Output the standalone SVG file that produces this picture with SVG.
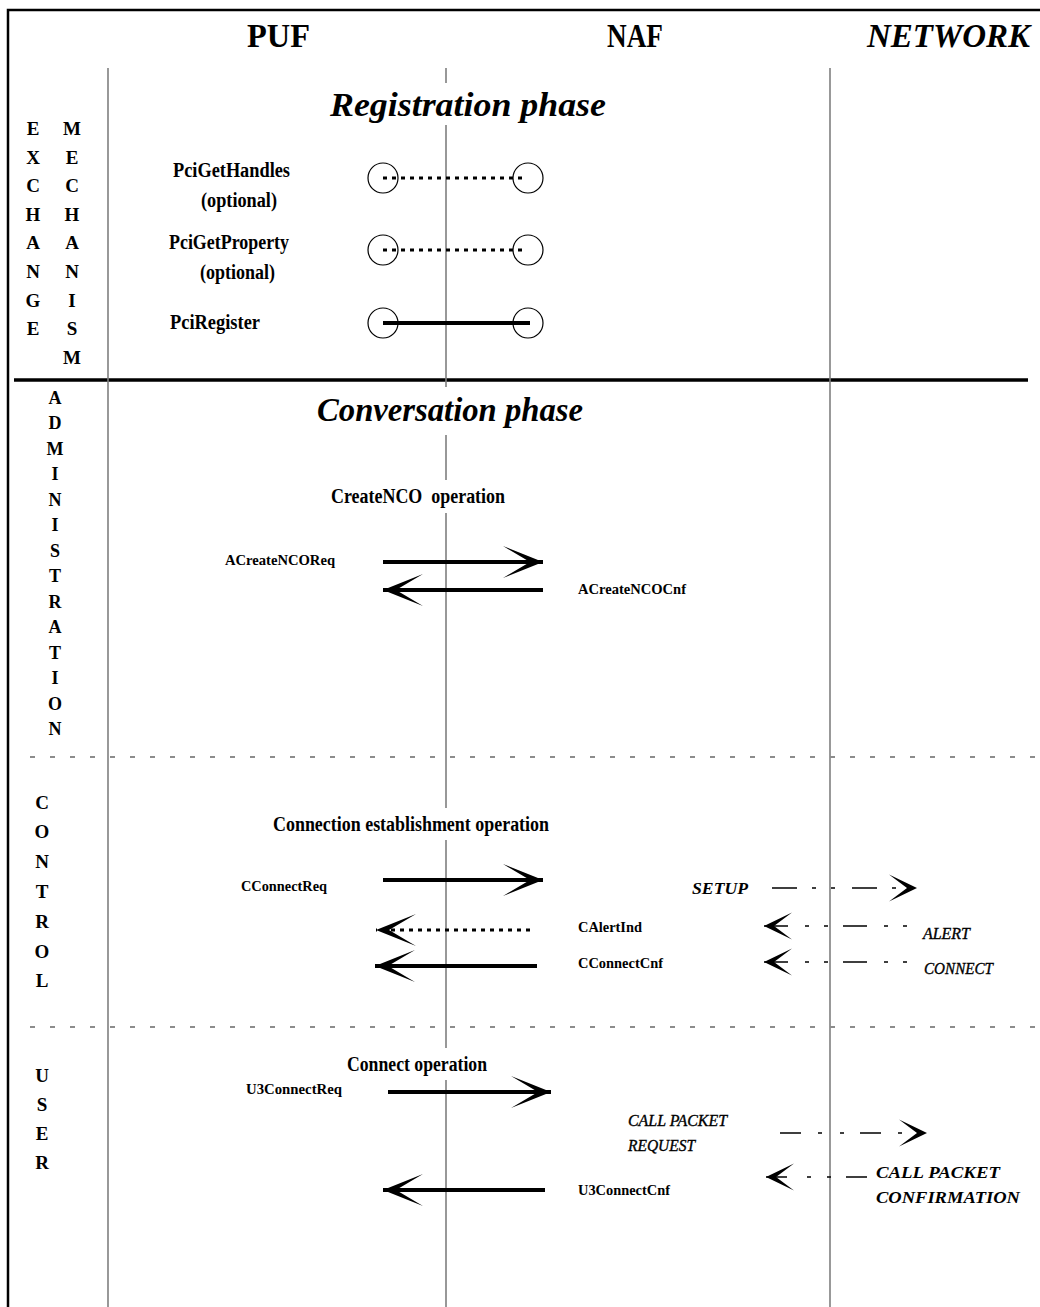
<svg xmlns="http://www.w3.org/2000/svg" width="1040" height="1307" viewBox="0 0 1040 1307">
  <defs>
    <style>
      .t{font-family:"Liberation Serif","Times New Roman",serif;font-weight:bold;fill:#000}
      .it{font-style:italic}
      .nb{font-weight:normal;stroke:#000;stroke-width:0.35}
      .life{stroke:#7f7f7f;stroke-width:1.6;fill:none}
      .sep{stroke:#8c8c8c;stroke-width:2;stroke-dasharray:5 15;fill:none}
      .msg{stroke:#000;stroke-width:4;fill:none}
      .dot{stroke:#000;stroke-width:3;stroke-dasharray:4 5;fill:none}
      .net{stroke:#000;stroke-width:1.3;fill:none}
      .end{fill:none;stroke:#000;stroke-width:1.2}
    </style>
    <!-- barbed arrowhead for interface primitives -->
    <marker id="head" markerUnits="userSpaceOnUse" viewBox="0 -17 41 34" refX="40" refY="0" markerWidth="41" markerHeight="34" orient="auto" overflow="visible">
      <path d="M0,-16 L40,0 L0,16 L27,0 Z" fill="#000"/>
    </marker>
    <!-- smaller arrowhead for network messages -->
    <marker id="headS" markerUnits="userSpaceOnUse" viewBox="0 -14 29 28" refX="28" refY="0" markerWidth="29" markerHeight="28" orient="auto" overflow="visible">
      <path d="M0,-13.5 L28,0 L0,13.5 L18,0 Z" fill="#000"/>
    </marker>
  </defs>

  <rect width="1040" height="1307" fill="#fff"/>

  <!-- frame -->
  <g id="frame" stroke="#000" fill="none">
    <path d="M8,1307 V10 H1040" stroke-width="2.5"/>
    <path d="M14,380 H1028" stroke-width="3.5"/>
  </g>

  <!-- lifelines and section separators -->
  <g id="lifelines">
    <path class="life" d="M108,68 V1307"/>
    <path class="life" d="M446,68 V83 M446,125 V387 M446,435 V480 M446,513 V808 M446,840 V1048 M446,1080 V1307"/>
    <path class="life" d="M830,68 V1307"/>
    <path class="sep" d="M30,757 H1040"/>
    <path class="sep" d="M30,1027 H1040"/>
  </g>

  <!-- column headers -->
  <g id="hdr-puf"><text class="t" x="247" y="47" font-size="34" textLength="63" lengthAdjust="spacingAndGlyphs">PUF</text></g>
  <g id="hdr-naf"><text class="t" x="607" y="47" font-size="34" textLength="56" lengthAdjust="spacingAndGlyphs">NAF</text></g>
  <g id="hdr-network"><text class="t it" x="867" y="47" font-size="34" textLength="163" lengthAdjust="spacingAndGlyphs">NETWORK</text></g>

  <!-- side labels -->
  <g id="side-exchange" class="t" font-size="19" text-anchor="middle">
    <text><tspan x="33" y="135">E</tspan><tspan x="33" y="163.6">X</tspan><tspan x="33" y="192.2">C</tspan><tspan x="33" y="220.8">H</tspan><tspan x="33" y="249.4">A</tspan><tspan x="33" y="278">N</tspan><tspan x="33" y="306.6">G</tspan><tspan x="33" y="335.2">E</tspan></text>
  </g>
  <g id="side-mechanism" class="t" font-size="19" text-anchor="middle">
    <text><tspan x="72" y="135">M</tspan><tspan x="72" y="163.6">E</tspan><tspan x="72" y="192.2">C</tspan><tspan x="72" y="220.8">H</tspan><tspan x="72" y="249.4">A</tspan><tspan x="72" y="278">N</tspan><tspan x="72" y="306.6">I</tspan><tspan x="72" y="335.2">S</tspan><tspan x="72" y="363.8">M</tspan></text>
  </g>
  <g id="side-administration" class="t" font-size="18" text-anchor="middle">
    <text><tspan x="55" y="403.5">A</tspan><tspan x="55" y="429">D</tspan><tspan x="55" y="454.5">M</tspan><tspan x="55" y="480">I</tspan><tspan x="55" y="505.5">N</tspan><tspan x="55" y="531">I</tspan><tspan x="55" y="556.5">S</tspan><tspan x="55" y="582">T</tspan><tspan x="55" y="607.5">R</tspan><tspan x="55" y="633">A</tspan><tspan x="55" y="658.5">T</tspan><tspan x="55" y="684">I</tspan><tspan x="55" y="709.5">O</tspan><tspan x="55" y="735">N</tspan></text>
  </g>
  <g id="side-control" class="t" font-size="19" text-anchor="middle">
    <text><tspan x="42" y="808.5">C</tspan><tspan x="42" y="838.3">O</tspan><tspan x="42" y="868.1">N</tspan><tspan x="42" y="897.9">T</tspan><tspan x="42" y="927.7">R</tspan><tspan x="42" y="957.5">O</tspan><tspan x="42" y="987.3">L</tspan></text>
  </g>
  <g id="side-user" class="t" font-size="19" text-anchor="middle">
    <text><tspan x="42" y="1081.5">U</tspan><tspan x="42" y="1110.5">S</tspan><tspan x="42" y="1139.5">E</tspan><tspan x="42" y="1168.5">R</tspan></text>
  </g>

  <!-- phase titles -->
  <g id="phase-registration"><text class="t it" x="330" y="116" font-size="34" textLength="276" lengthAdjust="spacingAndGlyphs">Registration phase</text></g>
  <g id="phase-conversation"><text class="t it" x="317" y="421" font-size="34" textLength="266" lengthAdjust="spacingAndGlyphs">Conversation phase</text></g>

  <!-- registration primitives -->
  <g id="reg-gethandles">
    <text class="t" x="173" y="177" font-size="20" textLength="117" lengthAdjust="spacingAndGlyphs">PciGetHandles</text>
    <text class="t" x="201" y="207" font-size="20" textLength="76" lengthAdjust="spacingAndGlyphs">(optional)</text>
    <circle class="end" cx="383" cy="178" r="15"/>
    <circle class="end" cx="528" cy="178" r="15"/>
  </g>
  <g id="reg-getproperty">
    <text class="t" x="169" y="249" font-size="20" textLength="120" lengthAdjust="spacingAndGlyphs">PciGetProperty</text>
    <text class="t" x="200" y="279" font-size="20" textLength="75" lengthAdjust="spacingAndGlyphs">(optional)</text>
    <circle class="end" cx="383" cy="250" r="15"/>
    <circle class="end" cx="528" cy="250" r="15"/>
  </g>
  <g id="reg-register">
    <text class="t" x="170" y="329" font-size="20" textLength="90" lengthAdjust="spacingAndGlyphs">PciRegister</text>
    <circle class="end" cx="383" cy="323" r="15"/>
    <circle class="end" cx="528" cy="323" r="15"/>
  </g>

  <!-- administration: CreateNCO -->
  <g id="op-createnco">
    <text class="t" x="331" y="503" font-size="20" textLength="174" lengthAdjust="spacingAndGlyphs" xml:space="preserve">CreateNCO  operation</text>
  </g>
  <g id="lbl-acreatencoreq"><text class="t" x="225" y="565" font-size="15" textLength="110" lengthAdjust="spacingAndGlyphs">ACreateNCOReq</text></g>
  <g id="lbl-acreatencocnf"><text class="t" x="578" y="594" font-size="15" textLength="108" lengthAdjust="spacingAndGlyphs">ACreateNCOCnf</text></g>

  <!-- control: connection establishment -->
  <g id="op-connest">
    <text class="t" x="273" y="831" font-size="20" textLength="276" lengthAdjust="spacingAndGlyphs">Connection establishment operation</text>
  </g>
  <g id="lbl-cconnectreq"><text class="t" x="241" y="891" font-size="15" textLength="86" lengthAdjust="spacingAndGlyphs">CConnectReq</text></g>
  <g id="lbl-calertind"><text class="t" x="578" y="932" font-size="15" textLength="64" lengthAdjust="spacingAndGlyphs">CAlertInd</text></g>
  <g id="lbl-cconnectcnf"><text class="t" x="578" y="968" font-size="15" textLength="85" lengthAdjust="spacingAndGlyphs">CConnectCnf</text></g>
  <g id="lbl-setup"><text class="t it" x="692" y="894" font-size="16" textLength="56" lengthAdjust="spacingAndGlyphs">SETUP</text></g>
  <g id="lbl-alert"><text class="t it nb" x="923" y="939" font-size="16" textLength="47" lengthAdjust="spacingAndGlyphs">ALERT</text></g>
  <g id="lbl-connect"><text class="t it nb" x="924" y="974" font-size="16" textLength="69" lengthAdjust="spacingAndGlyphs">CONNECT</text></g>

  <!-- user: connect -->
  <g id="op-connect">
    <text class="t" x="347" y="1071" font-size="20" textLength="140" lengthAdjust="spacingAndGlyphs">Connect operation</text>
  </g>
  <g id="lbl-u3connectreq"><text class="t" x="246" y="1094" font-size="15" textLength="96" lengthAdjust="spacingAndGlyphs">U3ConnectReq</text></g>
  <g id="lbl-u3connectcnf"><text class="t" x="578" y="1195" font-size="15" textLength="92" lengthAdjust="spacingAndGlyphs">U3ConnectCnf</text></g>
  <g id="lbl-callreq">
    <text class="t it nb" font-size="16"><tspan x="628" y="1126" textLength="99" lengthAdjust="spacingAndGlyphs">CALL PACKET</tspan><tspan x="628" y="1151" textLength="67" lengthAdjust="spacingAndGlyphs">REQUEST</tspan></text>
  </g>
  <g id="lbl-callconf">
    <text class="t it" font-size="17"><tspan x="876" y="1178" textLength="124" lengthAdjust="spacingAndGlyphs">CALL PACKET</tspan><tspan x="876" y="1203" textLength="144" lengthAdjust="spacingAndGlyphs">CONFIRMATION</tspan></text>
  </g>

  <!-- messages -->
  <g id="connectors">
    <path class="dot" d="M383,178 H525"/>
    <path class="dot" d="M383,250 H525"/>
    <path class="msg" d="M383,323 H530" stroke-width="3.5"/>

    <path class="msg" d="M383,562 H543" marker-end="url(#head)"/>
    <path class="msg" d="M543,590 H383" marker-end="url(#head)"/>

    <path class="msg" d="M383,880 H543" marker-end="url(#head)"/>
    <path class="dot" d="M530,930 H376" marker-end="url(#head)"/>
    <path class="msg" d="M537,966 H375" marker-end="url(#head)"/>

    <path class="msg" d="M388,1092 H551" marker-end="url(#head)"/>
    <path class="msg" d="M545,1190 H383" marker-end="url(#head)"/>

    <path class="net" d="M772,888 H917" stroke-dasharray="25 15 4 15 4 17" marker-end="url(#headS)"/>
    <path class="net" d="M907,926 H764" stroke-dasharray="4 15 4 17 24 15" marker-end="url(#headS)"/>
    <path class="net" d="M907,962 H764" stroke-dasharray="4 15 4 17 24 15" marker-end="url(#headS)"/>
    <path class="net" d="M780,1133 H927" stroke-dasharray="21 17 4 18 4 16" marker-end="url(#headS)"/>
    <path class="net" d="M867,1177 H766" stroke-dasharray="21 15 4 16 4 20" marker-end="url(#headS)"/>
  </g>
</svg>
